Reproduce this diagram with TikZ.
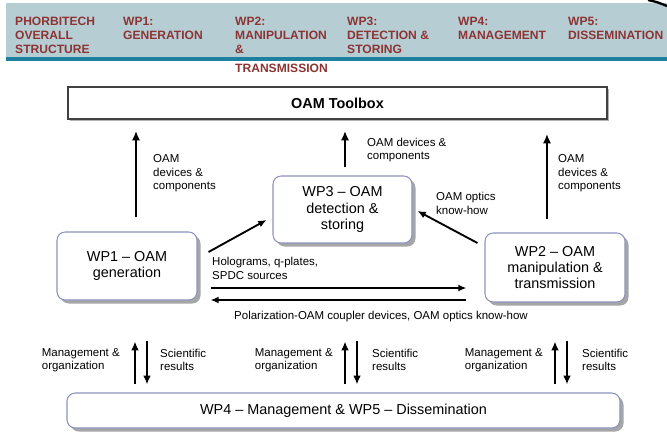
\documentclass[tikz,border=0pt]{standalone}
\usepackage{fontspec}
\setmainfont{Liberation Sans}
\usetikzlibrary{calc,shadows,arrows.meta}
\definecolor{bandblue}{RGB}{182,205,212}
\definecolor{barteal}{RGB}{28,128,158}
\definecolor{hdrred}{RGB}{140,52,52}
\definecolor{boxline}{RGB}{140,146,190}
\tikzset{>={Latex[length=7pt,width=6pt]}}
\tikzset{
  wpbox/.style={draw=boxline, line width=0.9pt, rounded corners=7pt, fill=white, align=center, inner sep=0pt,
    font=\fontsize{12.3}{14}\selectfont, drop shadow={shadow xshift=3pt, shadow yshift=-3pt, fill=black!35, opacity=1}},
  tbox/.style={draw=black!75, line width=1.6pt, fill=white, inner sep=0pt, minimum width=16.17cm, minimum height=0.96cm,
    font=\bfseries\fontsize{12.3}{14}\selectfont, drop shadow={shadow xshift=2pt, shadow yshift=-2pt, fill=black!30, opacity=1}},
  lbl/.style={font=\fontsize{9.8}{11.5}\selectfont, align=left, inner sep=0pt},
  hdr/.style={anchor=north west, align=left, inner sep=0pt, text=hdrred, font=\bfseries\fontsize{10.3}{12}\selectfont},
  bigar/.style={-{Latex[length=8pt,width=7pt]}, line width=2.2pt},
  midar/.style={->, line width=1.6pt},
  botar/.style={-{Latex[length=7.5pt,width=6.5pt]}, line width=2pt}
}
\begin{document}
\begin{tikzpicture}[x=0.03cm, y=-0.03cm]
  \useasboundingbox (0,0) rectangle (667,436);
  % header band
  \fill[bandblue] (6,3) rectangle (667,57);
  \fill[barteal] (6,57) rectangle (667,61);
  \draw[line width=2pt] (648,0) .. controls (657,2) .. (667,6);
  \foreach \x/\t [count=\i] in {15/{PHORBITECH\\OVERALL\\STRUCTURE}, 123/{WP1:\\GENERATION},
      235/{WP2:\\MANIPULATION\\\&\\[4pt]TRANSMISSION}, 347/{WP3:\\DETECTION \&\\STORING},
      458/{WP4:\\MANAGEMENT}, 568/{WP5:\\DISSEMINATION}}
    \node[hdr] (head\i) at (\x,17) {\t};
  % boxes
  \node[tbox] (toolbox) at (337.5,103) {OAM Toolbox};
  \node[wpbox, minimum width=4.2cm, minimum height=2.04cm] (wpone) at (127,266) {WP1 -- OAM\\generation};
  \node[wpbox, minimum width=4.17cm, minimum height=2.01cm] (wpthree) at (342.5,209.5) {WP3 -- OAM\\detection \&\\storing};
  \node[wpbox, minimum width=4.2cm, minimum height=2.07cm] (wptwo) at (555,267.5) {WP2 -- OAM\\manipulation \&\\transmission};
  \node[wpbox, minimum width=16.59cm, minimum height=1.05cm] (wpfour) at (343.5,410.5) {WP4 -- Management \& WP5 -- Dissemination};
  % up to the toolbox
  \draw[bigar] ($(wpone.north)+(9,-14)$) -- ($(wpone.north |- toolbox.south)+(9,11)$);
  \node[lbl, anchor=west] (devone) at (153,173.5) {OAM\\devices \&\\components};
  \draw[bigar] ($(wpthree.north)+(2.5,-8)$) -- ($(wpthree.north |- toolbox.south)+(2.5,11)$);
  \node[lbl, anchor=west] (devthree) at (367,150) {OAM devices \&\\components};
  \draw[bigar] ($(wptwo.north)+(-8,-13)$) -- ($(wptwo.north |- toolbox.south)+(-8,14)$);
  \node[lbl, anchor=west] (devtwo) at (558,173.5) {OAM\\devices \&\\components};
  % between the work packages
  \draw[midar] ($(wpone.east)+(11,-14)$) -- ($(wpthree.west)+(-6,10.5)$);
  \node[lbl, anchor=west] (holo) at (212,268.5) {Holograms, q-plates,\\SPDC sources};
  \draw[midar] ($(wptwo.west)+(-7,-24.5)$) -- ($(wpthree.east)+(5,1.5)$);
  \node[lbl, anchor=west] (knowhow) at (436,203.5) {OAM optics\\know-how};
  \draw[midar] ($(wpone.east)+(13,22)$) -- ($(wptwo.west)+(-18,20.5)$);
  \draw[midar] ($(wptwo.west)+(-18,32.5)$) -- ($(wpone.east)+(13,34)$);
  \node[lbl] (polar) at (381,317) {Polarization-OAM coupler devices, OAM optics know-how};
  % management and results
  \foreach \x/\lx/\rx [count=\i] in {135/120/160, 345/333/372, 555/543/582} {
    \draw[botar] ($(wpfour.north -| \x,0)+(0,-8)$) -- ++(0,-43);
    \draw[botar] ($(wpfour.north -| \x,0)+(12,-51)$) -- ++(0,43);
    \node[lbl, anchor=east] (mgmt\i) at (\lx,360) {Management \&\\organization};
    \node[lbl, anchor=west] (sci\i) at (\rx,360) {Scientific\\results};
  }
\end{tikzpicture}
\end{document}
